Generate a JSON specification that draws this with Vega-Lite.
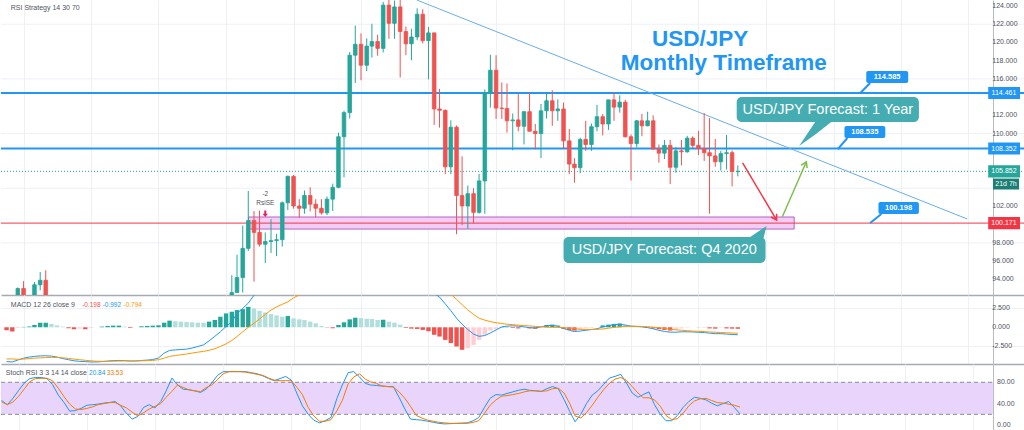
{
"$schema":"https://vega.github.io/schema/vega-lite/v6.json",
"padding":0,
"spacing":0,
"background":"#ffffff",
"config":{"view":{"stroke":null},"font":"Liberation Sans","axis":{"labelOverlap":false}},
"datasets":{
"candles":[
{"date":"2009-10-01","open":89.8,"high":92.3,"low":88.0,"close":90.2},
{"date":"2009-11-01","open":90.2,"high":92.1,"low":84.8,"close":86.3},
{"date":"2009-12-01","open":86.3,"high":93.1,"low":86.3,"close":93.0},
{"date":"2010-01-01","open":93.0,"high":93.8,"low":88.5,"close":90.3},
{"date":"2010-02-01","open":90.3,"high":92.1,"low":88.1,"close":88.9},
{"date":"2010-03-01","open":88.9,"high":93.7,"low":88.1,"close":93.4},
{"date":"2010-04-01","open":93.4,"high":94.8,"low":92.8,"close":93.9},
{"date":"2010-05-01","open":93.9,"high":95.0,"low":88.9,"close":91.2},
{"date":"2010-06-01","open":91.2,"high":92.3,"low":88.1,"close":88.4},
{"date":"2013-01-01","open":86.75,"high":91.75,"low":86.55,"close":91.7},
{"date":"2013-02-01","open":91.7,"high":94.45,"low":90.85,"close":92.55},
{"date":"2013-03-01","open":92.55,"high":96.7,"low":92.55,"close":94.2},
{"date":"2013-04-01","open":94.2,"high":99.9,"low":92.55,"close":97.4},
{"date":"2013-05-01","open":97.4,"high":103.7,"low":97.1,"close":100.45},
{"date":"2013-06-01","open":100.45,"high":101.5,"low":93.75,"close":99.15},
{"date":"2013-07-01","open":99.15,"high":101.55,"low":97.6,"close":97.85},
{"date":"2013-08-01","open":97.85,"high":99.15,"low":95.8,"close":98.15},
{"date":"2013-09-01","open":98.15,"high":100.6,"low":96.9,"close":98.25},
{"date":"2013-10-01","open":98.25,"high":99.0,"low":96.55,"close":98.35},
{"date":"2013-11-01","open":98.35,"high":102.55,"low":97.6,"close":102.4},
{"date":"2013-12-01","open":102.4,"high":105.4,"low":101.6,"close":105.3},
{"date":"2014-01-01","open":105.3,"high":105.45,"low":101.75,"close":102.05},
{"date":"2014-02-01","open":102.05,"high":102.8,"low":100.75,"close":101.8},
{"date":"2014-03-01","open":101.8,"high":103.75,"low":101.2,"close":103.2},
{"date":"2014-04-01","open":103.2,"high":104.1,"low":101.45,"close":102.25},
{"date":"2014-05-01","open":102.25,"high":102.8,"low":100.8,"close":101.8},
{"date":"2014-06-01","open":101.8,"high":102.8,"low":101.1,"close":101.3},
{"date":"2014-07-01","open":101.3,"high":103.1,"low":101.05,"close":102.8},
{"date":"2014-08-01","open":102.8,"high":104.5,"low":101.5,"close":104.1},
{"date":"2014-09-01","open":104.1,"high":110.1,"low":104.0,"close":109.65},
{"date":"2014-10-01","open":109.65,"high":112.5,"low":105.2,"close":112.3},
{"date":"2014-11-01","open":112.3,"high":118.95,"low":111.65,"close":118.6},
{"date":"2014-12-01","open":118.6,"high":121.85,"low":115.55,"close":119.8},
{"date":"2015-01-01","open":119.8,"high":121.0,"low":115.85,"close":117.5},
{"date":"2015-02-01","open":117.5,"high":120.45,"low":116.85,"close":119.6},
{"date":"2015-03-01","open":119.6,"high":122.05,"low":118.35,"close":120.1},
{"date":"2015-04-01","open":120.1,"high":120.85,"low":118.55,"close":119.35},
{"date":"2015-05-01","open":119.35,"high":124.45,"low":118.9,"close":124.1},
{"date":"2015-06-01","open":124.1,"high":125.85,"low":120.4,"close":122.1},
{"date":"2015-07-01","open":122.1,"high":124.6,"low":120.4,"close":123.9},
{"date":"2015-08-01","open":123.9,"high":125.3,"low":116.15,"close":121.2},
{"date":"2015-09-01","open":121.2,"high":121.75,"low":118.6,"close":119.85},
{"date":"2015-10-01","open":119.85,"high":121.5,"low":118.05,"close":120.6},
{"date":"2015-11-01","open":120.6,"high":123.75,"low":120.25,"close":123.1},
{"date":"2015-12-01","open":123.1,"high":123.65,"low":119.9,"close":120.2},
{"date":"2016-01-01","open":120.2,"high":121.7,"low":115.95,"close":121.05},
{"date":"2016-02-01","open":121.05,"high":121.05,"low":110.95,"close":112.7},
{"date":"2016-03-01","open":112.7,"high":114.9,"low":110.65,"close":112.55},
{"date":"2016-04-01","open":112.55,"high":112.65,"low":105.55,"close":106.35},
{"date":"2016-05-01","open":106.35,"high":111.45,"low":105.55,"close":110.7},
{"date":"2016-06-01","open":110.7,"high":110.9,"low":98.95,"close":103.2},
{"date":"2016-07-01","open":103.2,"high":107.5,"low":99.95,"close":102.05},
{"date":"2016-08-01","open":102.05,"high":104.3,"low":99.55,"close":103.4},
{"date":"2016-09-01","open":103.4,"high":104.0,"low":100.1,"close":101.35},
{"date":"2016-10-01","open":101.35,"high":105.55,"low":101.2,"close":104.8},
{"date":"2016-11-01","open":104.8,"high":114.85,"low":101.2,"close":114.45},
{"date":"2016-12-01","open":114.45,"high":118.65,"low":112.85,"close":116.95},
{"date":"2017-01-01","open":116.95,"high":118.6,"low":111.6,"close":112.8},
{"date":"2017-02-01","open":112.8,"high":115.6,"low":111.6,"close":112.75},
{"date":"2017-03-01","open":112.75,"high":115.5,"low":110.1,"close":111.4},
{"date":"2017-04-01","open":111.4,"high":112.2,"low":108.15,"close":111.5},
{"date":"2017-05-01","open":111.5,"high":114.35,"low":110.25,"close":110.8},
{"date":"2017-06-01","open":110.8,"high":112.45,"low":108.8,"close":112.4},
{"date":"2017-07-01","open":112.4,"high":114.5,"low":110.6,"close":110.25},
{"date":"2017-08-01","open":110.25,"high":111.05,"low":108.25,"close":110.0},
{"date":"2017-09-01","open":110.0,"high":113.25,"low":107.3,"close":112.5},
{"date":"2017-10-01","open":112.5,"high":114.45,"low":111.65,"close":113.6},
{"date":"2017-11-01","open":113.6,"high":114.75,"low":110.85,"close":112.5},
{"date":"2017-12-01","open":112.5,"high":113.75,"low":111.4,"close":112.7},
{"date":"2018-01-01","open":112.7,"high":113.4,"low":108.3,"close":109.2},
{"date":"2018-02-01","open":109.2,"high":110.5,"low":105.55,"close":106.65},
{"date":"2018-03-01","open":106.65,"high":107.3,"low":104.6,"close":106.25},
{"date":"2018-04-01","open":106.25,"high":109.55,"low":105.65,"close":109.35},
{"date":"2018-05-01","open":109.35,"high":111.4,"low":108.1,"close":108.8},
{"date":"2018-06-01","open":108.8,"high":111.1,"low":108.1,"close":110.75},
{"date":"2018-07-01","open":110.75,"high":113.15,"low":110.25,"close":111.85},
{"date":"2018-08-01","open":111.85,"high":112.15,"low":109.8,"close":111.05},
{"date":"2018-09-01","open":111.05,"high":113.7,"low":110.4,"close":113.7},
{"date":"2018-10-01","open":113.7,"high":114.55,"low":111.4,"close":112.9},
{"date":"2018-11-01","open":112.9,"high":114.2,"low":112.3,"close":113.45},
{"date":"2018-12-01","open":113.45,"high":113.7,"low":109.55,"close":109.65},
{"date":"2019-01-01","open":109.65,"high":109.9,"low":104.85,"close":108.9},
{"date":"2019-02-01","open":108.9,"high":111.5,"low":108.5,"close":111.4},
{"date":"2019-03-01","open":111.4,"high":112.15,"low":109.7,"close":110.85},
{"date":"2019-04-01","open":110.85,"high":112.4,"low":110.8,"close":111.4},
{"date":"2019-05-01","open":111.4,"high":112.0,"low":108.3,"close":108.3},
{"date":"2019-06-01","open":108.3,"high":108.8,"low":106.8,"close":107.85},
{"date":"2019-07-01","open":107.85,"high":109.3,"low":107.2,"close":108.7},
{"date":"2019-08-01","open":108.7,"high":109.3,"low":104.45,"close":106.3},
{"date":"2019-09-01","open":106.3,"high":108.5,"low":105.7,"close":108.1},
{"date":"2019-10-01","open":108.1,"high":109.3,"low":106.5,"close":108.0},
{"date":"2019-11-01","open":108.0,"high":109.75,"low":107.9,"close":109.5},
{"date":"2019-12-01","open":109.5,"high":109.7,"low":108.4,"close":108.7},
{"date":"2020-01-01","open":108.7,"high":110.3,"low":107.65,"close":108.35},
{"date":"2020-02-01","open":108.35,"high":112.25,"low":107.0,"close":107.9},
{"date":"2020-03-01","open":107.9,"high":111.7,"low":101.2,"close":107.55},
{"date":"2020-04-01","open":107.55,"high":109.4,"low":106.35,"close":106.9},
{"date":"2020-05-01","open":106.9,"high":108.1,"low":105.95,"close":107.8},
{"date":"2020-06-01","open":107.8,"high":109.85,"low":106.05,"close":107.9},
{"date":"2020-07-01","open":107.9,"high":108.15,"low":104.2,"close":105.85},
{"date":"2020-08-01","open":105.83,"high":106.5,"low":105.3,"close":105.85}
],
"ind":[
{"date":"2009-10-01","hist":-0.4,"macd":-4.55,"signal":-4.2,"k":46,"d":43.5},
{"date":"2009-11-01","hist":-0.55,"macd":-4.6,"signal":-4.2,"k":38,"d":38},
{"date":"2009-12-01","hist":-0.1,"macd":-4.35,"signal":-4.25,"k":50,"d":43},
{"date":"2010-01-01","hist":0.05,"macd":-4.1,"signal":-4.22,"k":65,"d":54},
{"date":"2010-02-01","hist":0.1,"macd":-3.95,"signal":-4.15,"k":79,"d":68},
{"date":"2010-03-01","hist":0.3,"macd":-3.86,"signal":-4.1,"k":87,"d":81},
{"date":"2010-04-01","hist":0.6,"macd":-3.8,"signal":-4.05,"k":89,"d":87},
{"date":"2010-05-01","hist":0.6,"macd":-3.78,"signal":-4.02,"k":89,"d":87.5},
{"date":"2010-06-01","hist":0.45,"macd":-3.82,"signal":-4.0,"k":87,"d":87.5},
{"date":"2010-07-01","hist":0.26,"macd":-3.95,"signal":-4.0,"k":76,"d":83},
{"date":"2010-08-01","hist":0.09,"macd":-4.15,"signal":-4.05,"k":56,"d":69},
{"date":"2010-09-01","hist":-0.13,"macd":-4.3,"signal":-4.12,"k":42,"d":53},
{"date":"2010-10-01","hist":-0.26,"macd":-4.45,"signal":-4.22,"k":26,"d":39},
{"date":"2010-11-01","hist":-0.18,"macd":-4.52,"signal":-4.3,"k":27,"d":30},
{"date":"2010-12-01","hist":-0.26,"macd":-4.55,"signal":-4.38,"k":31,"d":29},
{"date":"2011-01-01","hist":-0.09,"macd":-4.6,"signal":-4.45,"k":37,"d":31},
{"date":"2011-02-01","hist":0.0,"macd":-4.6,"signal":-4.5,"k":38,"d":34},
{"date":"2011-03-01","hist":0.09,"macd":-4.55,"signal":-4.52,"k":39,"d":38},
{"date":"2011-04-01","hist":0.18,"macd":-4.48,"signal":-4.52,"k":41,"d":40},
{"date":"2011-05-01","hist":0.22,"macd":-4.42,"signal":-4.5,"k":42,"d":42},
{"date":"2011-06-01","hist":0.22,"macd":-4.4,"signal":-4.48,"k":44,"d":42},
{"date":"2011-07-01","hist":0.09,"macd":-4.42,"signal":-4.46,"k":36,"d":37},
{"date":"2011-08-01","hist":-0.09,"macd":-4.48,"signal":-4.46,"k":22,"d":32},
{"date":"2011-09-01","hist":0.0,"macd":-4.46,"signal":-4.46,"k":11,"d":24},
{"date":"2011-10-01","hist":0.13,"macd":-4.4,"signal":-4.45,"k":16,"d":17},
{"date":"2011-11-01","hist":0.18,"macd":-4.35,"signal":-4.43,"k":33,"d":23},
{"date":"2011-12-01","hist":0.22,"macd":-4.28,"signal":-4.4,"k":38,"d":30},
{"date":"2012-01-01","hist":0.26,"macd":-4.08,"signal":-4.3,"k":32,"d":35},
{"date":"2012-02-01","hist":0.61,"macd":-3.42,"signal":-4.1,"k":44,"d":40},
{"date":"2012-03-01","hist":0.88,"macd":-3.07,"signal":-3.86,"k":64,"d":52},
{"date":"2012-04-01","hist":0.8,"macd":-3.0,"signal":-3.75,"k":88,"d":63},
{"date":"2012-05-01","hist":0.75,"macd":-2.95,"signal":-3.65,"k":75,"d":75},
{"date":"2012-06-01","hist":0.7,"macd":-2.9,"signal":-3.55,"k":67,"d":70},
{"date":"2012-07-01","hist":0.66,"macd":-2.75,"signal":-3.42,"k":66,"d":66},
{"date":"2012-08-01","hist":0.61,"macd":-2.55,"signal":-3.3,"k":64,"d":64},
{"date":"2012-09-01","hist":0.6,"macd":-2.33,"signal":-3.2,"k":61,"d":62.5},
{"date":"2012-10-01","hist":0.75,"macd":-1.8,"signal":-3.05,"k":67,"d":70},
{"date":"2012-11-01","hist":0.97,"macd":-1.2,"signal":-2.85,"k":79,"d":75},
{"date":"2012-12-01","hist":1.4,"macd":-0.6,"signal":-2.55,"k":93,"d":85},
{"date":"2013-01-01","hist":1.84,"macd":0.1,"signal":-2.2,"k":100,"d":96},
{"date":"2013-02-01","hist":2.06,"macd":0.75,"signal":-1.75,"k":100,"d":100},
{"date":"2013-03-01","hist":2.28,"macd":1.84,"signal":-1.23,"k":100,"d":100},
{"date":"2013-04-01","hist":2.41,"macd":2.5,"signal":-0.6,"k":100,"d":100},
{"date":"2013-05-01","hist":2.71,"macd":3.2,"signal":0.0,"k":100,"d":99},
{"date":"2013-06-01","hist":2.5,"macd":4.25,"signal":0.53,"k":98,"d":97},
{"date":"2013-07-01","hist":2.19,"macd":5.0,"signal":1.1,"k":96,"d":95},
{"date":"2013-08-01","hist":1.97,"macd":5.4,"signal":1.7,"k":92,"d":93},
{"date":"2013-09-01","hist":1.75,"macd":5.6,"signal":2.28,"k":87,"d":88},
{"date":"2013-10-01","hist":1.58,"macd":5.7,"signal":2.7,"k":83,"d":84},
{"date":"2013-11-01","hist":1.4,"macd":5.9,"signal":3.05,"k":87,"d":83},
{"date":"2013-12-01","hist":1.49,"macd":6.3,"signal":3.37,"k":91,"d":83},
{"date":"2014-01-01","hist":1.18,"macd":6.4,"signal":3.9,"k":84,"d":83},
{"date":"2014-02-01","hist":1.05,"macd":6.4,"signal":4.3,"k":58,"d":70},
{"date":"2014-03-01","hist":0.97,"macd":6.4,"signal":4.7,"k":36,"d":57},
{"date":"2014-04-01","hist":0.75,"macd":6.3,"signal":5.0,"k":20,"d":33},
{"date":"2014-05-01","hist":0.53,"macd":6.1,"signal":5.3,"k":9,"d":17},
{"date":"2014-06-01","hist":0.18,"macd":5.9,"signal":5.5,"k":4,"d":7},
{"date":"2014-07-01","hist":-0.04,"macd":5.7,"signal":5.6,"k":8,"d":7},
{"date":"2014-08-01","hist":-0.13,"macd":5.7,"signal":5.65,"k":14,"d":10},
{"date":"2014-09-01","hist":0.31,"macd":6.0,"signal":5.75,"k":49,"d":26},
{"date":"2014-10-01","hist":0.66,"macd":6.5,"signal":5.9,"k":75,"d":46},
{"date":"2014-11-01","hist":1.05,"macd":7.2,"signal":6.2,"k":98,"d":77},
{"date":"2014-12-01","hist":1.27,"macd":7.8,"signal":6.5,"k":100,"d":90},
{"date":"2015-01-01","hist":1.22,"macd":8.0,"signal":6.8,"k":90,"d":96},
{"date":"2015-02-01","hist":1.14,"macd":8.1,"signal":7.05,"k":78,"d":86},
{"date":"2015-03-01","hist":1.1,"macd":8.2,"signal":7.25,"k":75,"d":81},
{"date":"2015-04-01","hist":0.97,"macd":8.1,"signal":7.4,"k":74,"d":78},
{"date":"2015-05-01","hist":1.0,"macd":8.2,"signal":7.55,"k":73,"d":73},
{"date":"2015-06-01","hist":0.75,"macd":8.1,"signal":7.65,"k":72,"d":72},
{"date":"2015-07-01","hist":0.61,"macd":7.9,"signal":7.7,"k":72,"d":71},
{"date":"2015-08-01","hist":0.35,"macd":7.5,"signal":7.65,"k":52,"d":62},
{"date":"2015-09-01","hist":-0.09,"macd":7.0,"signal":7.5,"k":30,"d":50},
{"date":"2015-10-01","hist":-0.18,"macd":6.6,"signal":7.3,"k":11,"d":35},
{"date":"2015-11-01","hist":-0.22,"macd":6.3,"signal":7.1,"k":10,"d":18},
{"date":"2015-12-01","hist":-0.35,"macd":6.0,"signal":6.85,"k":9,"d":13},
{"date":"2016-01-01","hist":-0.53,"macd":5.6,"signal":6.55,"k":7,"d":9},
{"date":"2016-02-01","hist":-1.0,"macd":4.5,"signal":6.1,"k":5,"d":7},
{"date":"2016-03-01","hist":-1.23,"macd":4.0,"signal":5.6,"k":3,"d":5},
{"date":"2016-04-01","hist":-1.67,"macd":3.1,"signal":5.0,"k":2,"d":4},
{"date":"2016-05-01","hist":-2.1,"macd":2.2,"signal":4.4,"k":2.5,"d":3},
{"date":"2016-06-01","hist":-2.55,"macd":1.2,"signal":3.7,"k":3,"d":3},
{"date":"2016-07-01","hist":-2.99,"macd":0.4,"signal":3.0,"k":3.5,"d":3},
{"date":"2016-08-01","hist":-2.77,"macd":-0.3,"signal":2.3,"k":4,"d":3},
{"date":"2016-09-01","hist":-2.33,"macd":-0.9,"signal":1.7,"k":8,"d":5},
{"date":"2016-10-01","hist":-1.67,"macd":-1.2,"signal":1.2,"k":14,"d":8},
{"date":"2016-11-01","hist":-1.0,"macd":-1.1,"signal":0.95,"k":33,"d":22},
{"date":"2016-12-01","hist":-0.44,"macd":-0.75,"signal":0.75,"k":50,"d":37},
{"date":"2017-01-01","hist":-0.22,"macd":-0.35,"signal":0.6,"k":57,"d":47},
{"date":"2017-02-01","hist":0.05,"macd":0.05,"signal":0.5,"k":56,"d":54},
{"date":"2017-03-01","hist":0.05,"macd":0.15,"signal":0.4,"k":59,"d":55},
{"date":"2017-04-01","hist":-0.1,"macd":0.2,"signal":0.35,"k":62,"d":57},
{"date":"2017-05-01","hist":-0.15,"macd":0.15,"signal":0.28,"k":65,"d":59},
{"date":"2017-06-01","hist":0.0,"macd":0.05,"signal":0.22,"k":67,"d":62},
{"date":"2017-07-01","hist":-0.15,"macd":-0.05,"signal":0.18,"k":65,"d":64},
{"date":"2017-08-01","hist":-0.2,"macd":-0.1,"signal":0.12,"k":64,"d":64},
{"date":"2017-09-01","hist":0.0,"macd":0.05,"signal":0.06,"k":63,"d":63},
{"date":"2017-10-01","hist":0.3,"macd":0.2,"signal":0.02,"k":68,"d":64},
{"date":"2017-11-01","hist":0.35,"macd":0.25,"signal":0.0,"k":72,"d":68},
{"date":"2017-12-01","hist":0.3,"macd":0.15,"signal":-0.02,"k":68,"d":69},
{"date":"2018-01-01","hist":-0.2,"macd":-0.15,"signal":-0.05,"k":48,"d":60},
{"date":"2018-02-01","hist":-0.35,"macd":-0.4,"signal":-0.12,"k":25,"d":40},
{"date":"2018-03-01","hist":-0.44,"macd":-0.57,"signal":-0.2,"k":6,"d":17},
{"date":"2018-04-01","hist":-0.3,"macd":-0.5,"signal":-0.27,"k":20,"d":13},
{"date":"2018-05-01","hist":-0.15,"macd":-0.4,"signal":-0.3,"k":40,"d":23},
{"date":"2018-06-01","hist":-0.08,"macd":-0.3,"signal":-0.3,"k":56,"d":37},
{"date":"2018-07-01","hist":0.0,"macd":-0.2,"signal":-0.28,"k":64,"d":52},
{"date":"2018-08-01","hist":0.25,"macd":0.05,"signal":-0.22,"k":76,"d":66},
{"date":"2018-09-01","hist":0.35,"macd":0.2,"signal":-0.12,"k":88,"d":78},
{"date":"2018-10-01","hist":0.45,"macd":0.35,"signal":-0.02,"k":91,"d":86},
{"date":"2018-11-01","hist":0.5,"macd":0.4,"signal":0.06,"k":95,"d":89},
{"date":"2018-12-01","hist":0.3,"macd":0.3,"signal":0.12,"k":79,"d":84},
{"date":"2019-01-01","hist":0.1,"macd":0.15,"signal":0.14,"k":60,"d":72},
{"date":"2019-02-01","hist":0.03,"macd":0.1,"signal":0.13,"k":52,"d":60},
{"date":"2019-03-01","hist":0.0,"macd":0.05,"signal":0.11,"k":57,"d":51},
{"date":"2019-04-01","hist":-0.05,"macd":-0.05,"signal":0.08,"k":62,"d":51},
{"date":"2019-05-01","hist":-0.15,"macd":-0.2,"signal":0.02,"k":38,"d":47},
{"date":"2019-06-01","hist":-0.25,"macd":-0.4,"signal":-0.06,"k":20,"d":35},
{"date":"2019-07-01","hist":-0.35,"macd":-0.55,"signal":-0.16,"k":8,"d":18},
{"date":"2019-08-01","hist":-0.44,"macd":-0.65,"signal":-0.26,"k":8,"d":10},
{"date":"2019-09-01","hist":-0.3,"macd":-0.65,"signal":-0.34,"k":18,"d":12},
{"date":"2019-10-01","hist":-0.15,"macd":-0.6,"signal":-0.4,"k":33,"d":22},
{"date":"2019-11-01","hist":-0.05,"macd":-0.6,"signal":-0.45,"k":44,"d":36},
{"date":"2019-12-01","hist":0.0,"macd":-0.62,"signal":-0.5,"k":52,"d":45},
{"date":"2020-01-01","hist":0.02,"macd":-0.66,"signal":-0.54,"k":50,"d":49},
{"date":"2020-02-01","hist":-0.02,"macd":-0.7,"signal":-0.58,"k":47,"d":50},
{"date":"2020-03-01","hist":-0.15,"macd":-0.78,"signal":-0.62,"k":41,"d":46},
{"date":"2020-04-01","hist":-0.18,"macd":-0.85,"signal":-0.66,"k":36,"d":42},
{"date":"2020-05-01","hist":-0.05,"macd":-0.85,"signal":-0.7,"k":40,"d":41},
{"date":"2020-06-01","hist":-0.15,"macd":-0.9,"signal":-0.73,"k":44,"d":39},
{"date":"2020-07-01","hist":-0.18,"macd":-0.95,"signal":-0.76,"k":33,"d":37},
{"date":"2020-08-01","hist":-0.198,"macd":-0.992,"signal":-0.794,"k":20.84,"d":33.53}
]
},
"vconcat":[
{
"width":1024,"height":295,
"layer":[
{"data":{"values":[{"g":98},{"g":104},{"g":110},{"g":116},{"g":122}]},
 "mark":{"type":"rule","color":"#edf0f5","strokeWidth":1},
 "encoding":{"y":{"field":"g","type":"quantitative","scale":{"domain":[92.28,124.66]},
  "axis":{"orient":"right","offset":-32,"values":[100],"labels":false,"title":null,"grid":false,"ticks":false,"domain":true,"domainColor":"#b8bbc3","domainWidth":1}}}},
{"data":{"values":[{"start":"2013-05-02","end":"2021-06-02","lo":99.52,"hi":100.84}]},
 "mark":{"type":"rect","fill":"#f3cdf4","stroke":"#b560c6","strokeWidth":1},
 "encoding":{"x":{"field":"start","type":"temporal","scale":{"type":"utc","domain":[{"year":2009,"month":9,"date":28,"utc":true},{"year":2024,"month":10,"date":6,"utc":true}]},
   "axis":{"orient":"bottom","title":null,"labels":false,"ticks":false,"domain":true,"domainColor":"#a7aab2","domainWidth":1.5,"grid":true,"gridColor":"#eef0f5","tickCount":{"interval":"year","step":1}}},
  "x2":{"field":"end"},
  "y":{"field":"lo","type":"quantitative","scale":{"domain":[92.28,124.66]}},"y2":{"field":"hi"}}},
{"data":{"values":[{"v":94,"label":"94.000"},{"v":96,"label":"96.000"},{"v":98,"label":"98.000"},{"v":102,"label":"102.000"},{"v":110,"label":"110.000"},{"v":112,"label":"112.000"},{"v":116,"label":"116.000"},{"v":118,"label":"118.000"},{"v":120,"label":"120.000"},{"v":122,"label":"122.000"},{"v":124,"label":"124.000"}]},
 "mark":{"type":"text","color":"#50535e","fontSize":7,"align":"left","baseline":"middle","font":"Liberation Sans"},
 "encoding":{"x":{"datum":{"year":2024,"month":5,"date":9,"utc":true},"type":"temporal","scale":{"type":"utc","domain":[{"year":2009,"month":9,"date":28,"utc":true},{"year":2024,"month":10,"date":6,"utc":true}]}},
  "y":{"field":"v","type":"quantitative","scale":{"domain":[92.28,124.66]}},"text":{"field":"label"}}},
{"data":{"values":[{"level":114.461},{"level":108.352}]},
 "mark":{"type":"rule","color":"#2196f3","strokeWidth":2},
 "encoding":{"y":{"field":"level","type":"quantitative","scale":{"domain":[92.28,124.66]}}}},
{"data":{"values":[{"level":100.171}]},
 "mark":{"type":"rule","color":"#f23645","strokeWidth":1},
 "encoding":{"y":{"field":"level","type":"quantitative","scale":{"domain":[92.28,124.66]}}}},
{"data":{"values":[{"level":105.852}]},
 "mark":{"type":"rule","color":"#26a69a","strokeWidth":1,"strokeDash":[1,2]},
 "encoding":{"y":{"field":"level","type":"quantitative","scale":{"domain":[92.28,124.66]}}}},
{"data":{"values":[{"date":"2015-10-30","price":124.66},{"date":"2023-12-26","price":100.62}]},
 "mark":{"type":"line","color":"#6aaee8","strokeWidth":1,"clip":true},
 "encoding":{"x":{"field":"date","type":"temporal","scale":{"type":"utc","domain":[{"year":2009,"month":9,"date":28,"utc":true},{"year":2024,"month":10,"date":6,"utc":true}]}},
  "y":{"field":"price","type":"quantitative","scale":{"domain":[92.28,124.66]}}}},
{"data":{"name":"candles"},
 "mark":{"type":"rule","strokeWidth":1,"clip":true},
 "encoding":{"x":{"field":"date","type":"temporal","scale":{"type":"utc","domain":[{"year":2009,"month":9,"date":28,"utc":true},{"year":2024,"month":10,"date":6,"utc":true}]}},
  "y":{"field":"low","type":"quantitative","scale":{"domain":[92.28,124.66]}},"y2":{"field":"high"},
  "color":{"condition":{"test":"datum.close >= datum.open","value":"#26a69a"},"value":"#ef5350"}}},
{"data":{"name":"candles"},
 "mark":{"type":"bar","size":3.6,"strokeWidth":0.8,"clip":true},
 "encoding":{"x":{"field":"date","type":"temporal","scale":{"type":"utc","domain":[{"year":2009,"month":9,"date":28,"utc":true},{"year":2024,"month":10,"date":6,"utc":true}]}},
  "y":{"field":"open","type":"quantitative","scale":{"domain":[92.28,124.66]}},"y2":{"field":"close"},
  "color":{"condition":{"test":"datum.close >= datum.open","value":"#26a69a"},"value":"#ef5350"},
  "stroke":{"condition":{"test":"datum.close >= datum.open","value":"#26a69a"},"value":"#ef5350"}}},
{"data":{"values":[{"d1":"2020-08-27","p1":106.77,"d2":"2021-02-27","p2":100.51}]},
 "mark":{"type":"rule","color":"#f23645","strokeWidth":1.5},
 "encoding":{"x":{"field":"d1","type":"temporal","scale":{"type":"utc","domain":[{"year":2009,"month":9,"date":28,"utc":true},{"year":2024,"month":10,"date":6,"utc":true}]}},"x2":{"field":"d2"},
  "y":{"field":"p1","type":"quantitative","scale":{"domain":[92.28,124.66]}},"y2":{"field":"p2"}}},
{"data":{"values":[{"d1":"2021-03-30","p1":100.87,"d2":"2021-08-07","p2":106.91}]},
 "mark":{"type":"rule","color":"#7cbf4b","strokeWidth":1.5},
 "encoding":{"x":{"field":"d1","type":"temporal","scale":{"type":"utc","domain":[{"year":2009,"month":9,"date":28,"utc":true},{"year":2024,"month":10,"date":6,"utc":true}]}},"x2":{"field":"d2"},
  "y":{"field":"p1","type":"quantitative","scale":{"domain":[92.28,124.66]}},"y2":{"field":"p2"}}},
{"data":{"values":[{"d":"2021-02-27","p":100.51}]},
 "mark":{"type":"point","shape":"M-0.6,1L0,0L0.6,1","filled":false,"stroke":"#f23645","strokeWidth":1.5,"size":120,"angle":149,"opacity":1},
 "encoding":{"x":{"field":"d","type":"temporal","scale":{"type":"utc","domain":[{"year":2009,"month":9,"date":28,"utc":true},{"year":2024,"month":10,"date":6,"utc":true}]}},
  "y":{"field":"p","type":"quantitative","scale":{"domain":[92.28,124.66]}}}},
{"data":{"values":[{"d":"2021-08-07","p":106.91}]},
 "mark":{"type":"point","shape":"M-0.6,1L0,0L0.6,1","filled":false,"stroke":"#7cbf4b","strokeWidth":1.5,"size":120,"angle":24,"opacity":1},
 "encoding":{"x":{"field":"d","type":"temporal","scale":{"type":"utc","domain":[{"year":2009,"month":9,"date":28,"utc":true},{"year":2024,"month":10,"date":6,"utc":true}]}},
  "y":{"field":"p","type":"quantitative","scale":{"domain":[92.28,124.66]}}}},
{"data":{"values":[{"s":"2020-07-26","e":"2023-04-08","lo":111.27,"hi":114.01},{"s":"2018-01-01","e":"2020-12-29","lo":95.79,"hi":98.64}]},
 "mark":{"type":"rect","fill":"#45adb2","cornerRadius":5},
 "encoding":{"x":{"field":"s","type":"temporal","scale":{"type":"utc","domain":[{"year":2009,"month":9,"date":28,"utc":true},{"year":2024,"month":10,"date":6,"utc":true}]}},"x2":{"field":"e"},
  "y":{"field":"lo","type":"quantitative","scale":{"domain":[92.28,124.66]}},"y2":{"field":"hi"}}},
{"data":{"values":[
  {"tail":"a","d":"2021-06-29","top":108.63,"bot":108.63},{"tail":"a","d":"2021-09-28","top":111.4,"bot":109.95},{"tail":"a","d":"2021-12-28","top":111.4,"bot":111.4},
  {"tail":"b","d":"2020-09-29","top":98.53,"bot":98.53},{"tail":"b","d":"2020-12-18","top":99.63,"bot":98.53},{"tail":"b","d":"2021-01-04","top":99.85,"bot":99.85}]},
 "mark":{"type":"area","color":"#45adb2","opacity":1},
 "encoding":{"x":{"field":"d","type":"temporal","scale":{"type":"utc","domain":[{"year":2009,"month":9,"date":28,"utc":true},{"year":2024,"month":10,"date":6,"utc":true}]}},
  "y":{"field":"top","type":"quantitative","scale":{"domain":[92.28,124.66]}},"y2":{"field":"bot"},"detail":{"field":"tail"}}},
{"data":{"values":[{"d":"2021-12-01","p":112.59,"label":"USD/JPY Forecast: 1 Year"},{"d":"2019-06-30","p":97.22,"label":"USD/JPY Forecast: Q4 2020"}]},
 "mark":{"type":"text","color":"#ffffff","fontSize":14.5,"align":"center","baseline":"middle","font":"Liberation Sans"},
 "encoding":{"x":{"field":"d","type":"temporal","scale":{"type":"utc","domain":[{"year":2009,"month":9,"date":28,"utc":true},{"year":2024,"month":10,"date":6,"utc":true}]}},
  "y":{"field":"p","type":"quantitative","scale":{"domain":[92.28,124.66]}},"text":{"field":"label"}}},
{"data":{"values":[{"s":"2022-06-27","e":"2023-02-09","lo":115.55,"hi":116.87},{"s":"2022-03-01","e":"2022-10-08","lo":109.51,"hi":110.83},{"s":"2022-09-01","e":"2023-04-08","lo":101.17,"hi":102.49}]},
 "mark":{"type":"rect","fill":"#2196f3","cornerRadius":2},
 "encoding":{"x":{"field":"s","type":"temporal","scale":{"type":"utc","domain":[{"year":2009,"month":9,"date":28,"utc":true},{"year":2024,"month":10,"date":6,"utc":true}]}},"x2":{"field":"e"},
  "y":{"field":"lo","type":"quantitative","scale":{"domain":[92.28,124.66]}},"y2":{"field":"hi"}}},
{"data":{"values":[{"d1":"2022-07-18","p1":115.55,"d2":"2022-05-26","p2":114.45},{"d1":"2022-03-17","p1":109.51,"d2":"2022-01-24","p2":108.3},{"d1":"2022-09-17","p1":101.17,"d2":"2022-07-18","p2":100.18}]},
 "mark":{"type":"rule","color":"#2196f3","strokeWidth":2},
 "encoding":{"x":{"field":"d1","type":"temporal","scale":{"type":"utc","domain":[{"year":2009,"month":9,"date":28,"utc":true},{"year":2024,"month":10,"date":6,"utc":true}]}},"x2":{"field":"d2"},
  "y":{"field":"p1","type":"quantitative","scale":{"domain":[92.28,124.66]}},"y2":{"field":"p2"}}},
{"data":{"values":[{"d":"2022-10-18","p":116.21,"label":"114.585"},{"d":"2022-06-19","p":110.17,"label":"108.535"},{"d":"2022-12-19","p":101.83,"label":"100.198"}]},
 "mark":{"type":"text","color":"#ffffff","fontSize":7.5,"fontWeight":"bold","align":"center","baseline":"middle","font":"Liberation Sans"},
 "encoding":{"x":{"field":"d","type":"temporal","scale":{"type":"utc","domain":[{"year":2009,"month":9,"date":28,"utc":true},{"year":2024,"month":10,"date":6,"utc":true}]}},
  "y":{"field":"p","type":"quantitative","scale":{"domain":[92.28,124.66]}},"text":{"field":"label"}}},
{"data":{"values":[{"s":"2024-04-17","e":"2024-10-06","lo":113.8,"hi":115.12,"kind":"line"},{"s":"2024-04-17","e":"2024-10-06","lo":107.69,"hi":109.01,"kind":"line"},{"s":"2024-04-17","e":"2024-10-06","lo":105.19,"hi":106.51,"kind":"price"},{"s":"2024-05-13","e":"2024-10-01","lo":103.86,"hi":105.06,"kind":"timer"},{"s":"2024-04-17","e":"2024-10-06","lo":99.51,"hi":100.83,"kind":"support"}]},
 "mark":{"type":"rect"},
 "encoding":{"x":{"field":"s","type":"temporal","scale":{"type":"utc","domain":[{"year":2009,"month":9,"date":28,"utc":true},{"year":2024,"month":10,"date":6,"utc":true}]}},"x2":{"field":"e"},
  "y":{"field":"lo","type":"quantitative","scale":{"domain":[92.28,124.66]}},"y2":{"field":"hi"},
  "color":{"field":"kind","type":"nominal","scale":{"domain":["line","price","timer","support"],"range":["#2196f3","#26a69a","#1c7f76","#f23645"]},"legend":null}}},
{"data":{"values":[{"d":"2024-07-11","p":114.461,"label":"114.461"},{"d":"2024-07-11","p":108.352,"label":"108.352"},{"d":"2024-07-11","p":105.852,"label":"105.852"},{"d":"2024-07-22","p":104.46,"label":"21d 7h"},{"d":"2024-07-11","p":100.171,"label":"100.171"}]},
 "mark":{"type":"text","color":"#ffffff","fontSize":7,"align":"center","baseline":"middle","font":"Liberation Sans"},
 "encoding":{"x":{"field":"d","type":"temporal","scale":{"type":"utc","domain":[{"year":2009,"month":9,"date":28,"utc":true},{"year":2024,"month":10,"date":6,"utc":true}]}},
  "y":{"field":"p","type":"quantitative","scale":{"domain":[92.28,124.66]}},"text":{"field":"label"}}},
{"data":{"values":[{"d":"2020-01-10","p":120.4,"label":"USD/JPY"}]},
 "mark":{"type":"text","color":"#2196f3","fontSize":22.5,"fontWeight":"bold","align":"center","baseline":"middle","font":"Liberation Sans"},
 "encoding":{"x":{"field":"d","type":"temporal","scale":{"type":"utc","domain":[{"year":2009,"month":9,"date":28,"utc":true},{"year":2024,"month":10,"date":6,"utc":true}]}},
  "y":{"field":"p","type":"quantitative","scale":{"domain":[92.28,124.66]}},"text":{"field":"label"}}},
{"data":{"values":[{"d":"2020-05-17","p":117.7,"label":"Monthly Timeframe"}]},
 "mark":{"type":"text","color":"#2196f3","fontSize":22.5,"fontWeight":"bold","align":"center","baseline":"middle","font":"Liberation Sans"},
 "encoding":{"x":{"field":"d","type":"temporal","scale":{"type":"utc","domain":[{"year":2009,"month":9,"date":28,"utc":true},{"year":2024,"month":10,"date":6,"utc":true}]}},
  "y":{"field":"p","type":"quantitative","scale":{"domain":[92.28,124.66]}},"text":{"field":"label"}}},
{"data":{"values":[{"d":"2009-10-24","p":123.78,"label":"RSI Strategy 14 30 70"}]},
 "mark":{"type":"text","color":"#50535e","fontSize":7,"align":"left","baseline":"middle","font":"Liberation Sans"},
 "encoding":{"x":{"field":"d","type":"temporal","scale":{"type":"utc","domain":[{"year":2009,"month":9,"date":28,"utc":true},{"year":2024,"month":10,"date":6,"utc":true}]}},
  "y":{"field":"p","type":"quantitative","scale":{"domain":[92.28,124.66]}},"text":{"field":"label"}}},
{"data":{"values":[{"d":"2013-08-01","p":103.36,"label":"-2"},{"d":"2013-08-01","p":102.38,"label":"RsiSE"}]},
 "mark":{"type":"text","color":"#50535e","fontSize":6.5,"align":"center","baseline":"middle","font":"Liberation Sans"},
 "encoding":{"x":{"field":"d","type":"temporal","scale":{"type":"utc","domain":[{"year":2009,"month":9,"date":28,"utc":true},{"year":2024,"month":10,"date":6,"utc":true}]}},
  "y":{"field":"p","type":"quantitative","scale":{"domain":[92.28,124.66]}},"text":{"field":"label"}}},
{"data":{"values":[{"d":"2013-08-01","p":101.2}]},
 "mark":{"type":"point","shape":"M-0.3,-1L0.3,-1L0.3,0L0.8,0L0,1L-0.8,0L-0.3,0Z","filled":true,"color":"#e91e63","size":45,"opacity":1},
 "encoding":{"x":{"field":"d","type":"temporal","scale":{"type":"utc","domain":[{"year":2009,"month":9,"date":28,"utc":true},{"year":2024,"month":10,"date":6,"utc":true}]}},
  "y":{"field":"p","type":"quantitative","scale":{"domain":[92.28,124.66]}}}}
]
},
{
"width":1024,"height":69,
"layer":[
{"data":{"name":"ind"},
 "transform":[{"window":[{"op":"lag","field":"hist","as":"prev"}],"sort":[{"field":"date"}]}],
 "mark":{"type":"bar","size":4.4,"clip":true},
 "encoding":{"x":{"field":"date","type":"temporal","scale":{"type":"utc","domain":[{"year":2009,"month":9,"date":28,"utc":true},{"year":2024,"month":10,"date":6,"utc":true}]},
   "axis":{"orient":"bottom","title":null,"labels":false,"ticks":false,"domain":true,"domainColor":"#a7aab2","domainWidth":1.5,"grid":true,"gridColor":"#eef0f5","tickCount":{"interval":"year","step":1}}},
  "y":{"field":"hist","type":"quantitative","scale":{"domain":[-4.87,4.28]},
   "axis":{"orient":"right","offset":-32,"values":[2.5,0,-2.5],"labels":false,"title":null,"grid":true,"gridColor":"#eef0f5","ticks":false,"domain":true,"domainColor":"#b8bbc3","domainWidth":1}},
  "y2":{"datum":0},
  "color":{"condition":[{"test":"datum.hist >= 0 && datum.hist >= datum.prev","value":"#26a69a"},{"test":"datum.hist >= 0","value":"#b2dfdb"},{"test":"datum.hist <= datum.prev","value":"#ef5350"}],"value":"#ffcdd2"}}},
{"data":{"values":[{"v":2.5,"label":"2.500"},{"v":0,"label":"0.000"},{"v":-2.5,"label":"-2.500"}]},
 "mark":{"type":"text","color":"#50535e","fontSize":7,"align":"left","baseline":"middle","font":"Liberation Sans"},
 "encoding":{"x":{"datum":{"year":2024,"month":5,"date":9,"utc":true},"type":"temporal","scale":{"type":"utc","domain":[{"year":2009,"month":9,"date":28,"utc":true},{"year":2024,"month":10,"date":6,"utc":true}]}},
  "y":{"field":"v","type":"quantitative","scale":{"domain":[-4.87,4.28]}},"text":{"field":"label"}}},
{"data":{"name":"ind"},
 "mark":{"type":"line","color":"#2196f3","strokeWidth":1,"clip":true},
 "encoding":{"x":{"field":"date","type":"temporal","scale":{"type":"utc","domain":[{"year":2009,"month":9,"date":28,"utc":true},{"year":2024,"month":10,"date":6,"utc":true}]}},
  "y":{"field":"macd","type":"quantitative","scale":{"domain":[-4.87,4.28]}}}},
{"data":{"name":"ind"},
 "mark":{"type":"line","color":"#ff9800","strokeWidth":1,"clip":true},
 "encoding":{"x":{"field":"date","type":"temporal","scale":{"type":"utc","domain":[{"year":2009,"month":9,"date":28,"utc":true},{"year":2024,"month":10,"date":6,"utc":true}]}},
  "y":{"field":"signal","type":"quantitative","scale":{"domain":[-4.87,4.28]}}}},
{"data":{"values":[{"d":"2009-10-24","v":2.95,"label":"MACD 12 26 close 9"}]},
 "mark":{"type":"text","color":"#50535e","fontSize":7,"align":"left","baseline":"middle","font":"Liberation Sans"},
 "encoding":{"x":{"field":"d","type":"temporal","scale":{"type":"utc","domain":[{"year":2009,"month":9,"date":28,"utc":true},{"year":2024,"month":10,"date":6,"utc":true}]}},
  "y":{"field":"v","type":"quantitative","scale":{"domain":[-4.87,4.28]}},"text":{"field":"label"}}},
{"data":{"values":[{"d":"2010-11-14","v":2.95,"label":"-0.198"}]},
 "mark":{"type":"text","color":"#ef5350","fontSize":6.5,"align":"left","baseline":"middle","font":"Liberation Sans"},
 "encoding":{"x":{"field":"d","type":"temporal","scale":{"type":"utc","domain":[{"year":2009,"month":9,"date":28,"utc":true},{"year":2024,"month":10,"date":6,"utc":true}]}},
  "y":{"field":"v","type":"quantitative","scale":{"domain":[-4.87,4.28]}},"text":{"field":"label"}}},
{"data":{"values":[{"d":"2011-03-05","v":2.95,"label":"-0.992"}]},
 "mark":{"type":"text","color":"#2196f3","fontSize":6.5,"align":"left","baseline":"middle","font":"Liberation Sans"},
 "encoding":{"x":{"field":"d","type":"temporal","scale":{"type":"utc","domain":[{"year":2009,"month":9,"date":28,"utc":true},{"year":2024,"month":10,"date":6,"utc":true}]}},
  "y":{"field":"v","type":"quantitative","scale":{"domain":[-4.87,4.28]}},"text":{"field":"label"}}},
{"data":{"values":[{"d":"2011-06-26","v":2.95,"label":"-0.794"}]},
 "mark":{"type":"text","color":"#ff9800","fontSize":6.5,"align":"left","baseline":"middle","font":"Liberation Sans"},
 "encoding":{"x":{"field":"d","type":"temporal","scale":{"type":"utc","domain":[{"year":2009,"month":9,"date":28,"utc":true},{"year":2024,"month":10,"date":6,"utc":true}]}},
  "y":{"field":"v","type":"quantitative","scale":{"domain":[-4.87,4.28]}},"text":{"field":"label"}}}
]
},
{
"width":1024,"height":66,
"layer":[
{"data":{"values":[{"s":"2009-09-28","e":"2024-04-17","lo":20,"hi":80}]},
 "mark":{"type":"rect","fill":"#e9d5fb"},
 "encoding":{"x":{"field":"s","type":"temporal","scale":{"type":"utc","domain":[{"year":2009,"month":9,"date":28,"utc":true},{"year":2024,"month":10,"date":6,"utc":true}]},
   "axis":{"orient":"bottom","title":null,"labels":false,"ticks":false,"domain":false,"grid":true,"gridColor":"#eef0f5","tickCount":{"interval":"year","step":1}}},"x2":{"field":"e"},
  "y":{"field":"lo","type":"quantitative","scale":{"domain":[-9.4,114.3]},
   "axis":{"orient":"right","offset":-32,"values":[40],"labels":false,"title":null,"grid":false,"ticks":false,"domain":true,"domainColor":"#b8bbc3","domainWidth":1}},
  "y2":{"field":"hi"}}},
{"data":{"values":[{"s":"2009-09-28","e":"2024-04-17","level":80},{"s":"2009-09-28","e":"2024-04-17","level":20}]},
 "mark":{"type":"rule","color":"#8a8d96","strokeWidth":1,"strokeDash":[4,3]},
 "encoding":{"x":{"field":"s","type":"temporal","scale":{"type":"utc","domain":[{"year":2009,"month":9,"date":28,"utc":true},{"year":2024,"month":10,"date":6,"utc":true}]}},"x2":{"field":"e"},
  "y":{"field":"level","type":"quantitative","scale":{"domain":[-9.4,114.3]}}}},
{"data":{"values":[{"v":80,"label":"80.00"},{"v":40,"label":"40.00"},{"v":0,"label":"0.00"}]},
 "mark":{"type":"text","color":"#50535e","fontSize":7,"align":"left","baseline":"middle","font":"Liberation Sans"},
 "encoding":{"x":{"datum":{"year":2024,"month":5,"date":9,"utc":true},"type":"temporal","scale":{"type":"utc","domain":[{"year":2009,"month":9,"date":28,"utc":true},{"year":2024,"month":10,"date":6,"utc":true}]}},
  "y":{"field":"v","type":"quantitative","scale":{"domain":[-9.4,114.3]}},"text":{"field":"label"}}},
{"data":{"name":"ind"},
 "mark":{"type":"line","color":"#2196f3","strokeWidth":1,"clip":true},
 "encoding":{"x":{"field":"date","type":"temporal","scale":{"type":"utc","domain":[{"year":2009,"month":9,"date":28,"utc":true},{"year":2024,"month":10,"date":6,"utc":true}]}},
  "y":{"field":"k","type":"quantitative","scale":{"domain":[-9.4,114.3]}}}},
{"data":{"name":"ind"},
 "mark":{"type":"line","color":"#f57c00","strokeWidth":1,"clip":true},
 "encoding":{"x":{"field":"date","type":"temporal","scale":{"type":"utc","domain":[{"year":2009,"month":9,"date":28,"utc":true},{"year":2024,"month":10,"date":6,"utc":true}]}},
  "y":{"field":"d","type":"quantitative","scale":{"domain":[-9.4,114.3]}}}},
{"data":{"values":[{"d":"2009-10-24","v":97.4,"label":"Stoch RSI 3 3 14 14 close"}]},
 "mark":{"type":"text","color":"#50535e","fontSize":7,"align":"left","baseline":"middle","font":"Liberation Sans"},
 "encoding":{"x":{"field":"d","type":"temporal","scale":{"type":"utc","domain":[{"year":2009,"month":9,"date":28,"utc":true},{"year":2024,"month":10,"date":6,"utc":true}]}},
  "y":{"field":"v","type":"quantitative","scale":{"domain":[-9.4,114.3]}},"text":{"field":"label"}}},
{"data":{"values":[{"d":"2011-01-13","v":97.4,"label":"20.84"}]},
 "mark":{"type":"text","color":"#2196f3","fontSize":6.5,"align":"left","baseline":"middle","font":"Liberation Sans"},
 "encoding":{"x":{"field":"d","type":"temporal","scale":{"type":"utc","domain":[{"year":2009,"month":9,"date":28,"utc":true},{"year":2024,"month":10,"date":6,"utc":true}]}},
  "y":{"field":"v","type":"quantitative","scale":{"domain":[-9.4,114.3]}},"text":{"field":"label"}}},
{"data":{"values":[{"d":"2011-04-18","v":97.4,"label":"33.53"}]},
 "mark":{"type":"text","color":"#f57c00","fontSize":6.5,"align":"left","baseline":"middle","font":"Liberation Sans"},
 "encoding":{"x":{"field":"d","type":"temporal","scale":{"type":"utc","domain":[{"year":2009,"month":9,"date":28,"utc":true},{"year":2024,"month":10,"date":6,"utc":true}]}},
  "y":{"field":"v","type":"quantitative","scale":{"domain":[-9.4,114.3]}},"text":{"field":"label"}}}
]
}
]
}
